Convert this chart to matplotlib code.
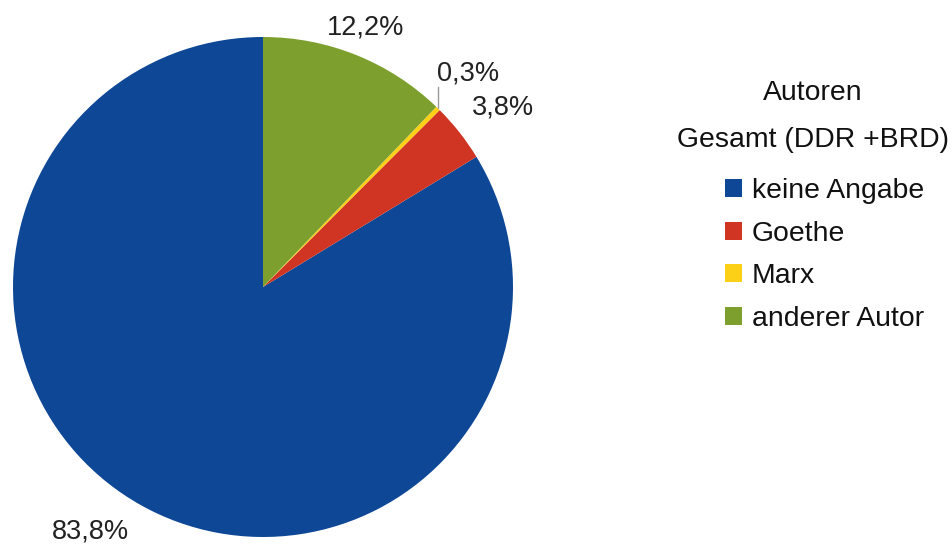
import matplotlib
matplotlib.use("Agg")
import matplotlib.pyplot as plt
import numpy as np

plt.rcParams['font.family'] = ['Liberation Sans', 'DejaVu Sans']

# data
categories = ['keine Angabe', 'Goethe', 'Marx', 'anderer Autor']
shares = [83.8, 3.8, 0.3, 12.2]
colors = ['#0e4796', '#cf3522', '#fdd018', '#7c9f2e']
title_lines = ['Autoren', 'Gesamt (DDR +BRD)']

W, H = 953, 548
fig = plt.figure(figsize=(W / 100, H / 100), dpi=100)
ax = fig.add_axes([0, 0, 1, 1])

cx, cy, r = 263, H - 287, 250
wedges, _ = ax.pie(shares, colors=colors, startangle=90, counterclock=True,
                   center=(cx, cy), radius=r, frame=True,
                   wedgeprops=dict(linewidth=0))
ax.set_xlim(0, W)
ax.set_ylim(0, H)
ax.set_aspect('equal')
ax.axis('off')

# percentage labels (positions in pixels from the top-left)
label_pos = [(90, 531), (503, 107), (468, 73), (366, 28)]
for val, (px, py) in zip(shares, label_pos):
    txt = ('%.1f%%' % val).replace('.', ',')
    ax.text(px, H - py, txt, ha='center', va='center', fontsize=19.5, color='#222222')

# leader line for the tiny Marx slice
w = wedges[2]
mid = np.deg2rad((w.theta1 + w.theta2) / 2)
ex, ey = cx + r * np.cos(mid), cy + r * np.sin(mid)
ax.plot([ex, ex], [ey, H - 87], color='#999999', lw=1)

# legend title (two centred lines)
for line, py in zip(title_lines, [93, 140]):
    ax.text(813, H - py, line, ha='center', va='center', fontsize=20.4, color='#111111')

leg = ax.legend(wedges, categories, frameon=False,
                loc='upper left', bbox_to_anchor=(725 / W, 1 - 178 / H),
                borderaxespad=0, borderpad=0,
                fontsize=20.4, handlelength=0.6,
                handleheight=0.6, handletextpad=0.35, labelspacing=0.59)
for t in leg.get_texts():
    t.set_color('#111111')

fig.savefig('out.png', dpi=100)
